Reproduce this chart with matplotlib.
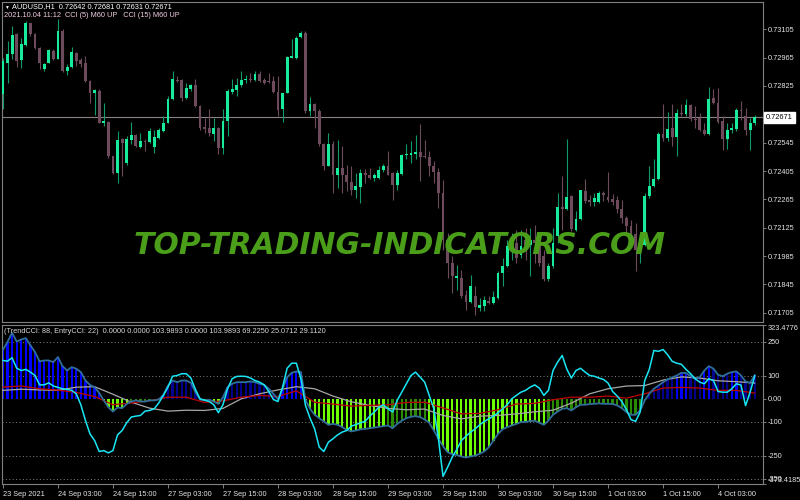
import numpy as np
import matplotlib
matplotlib.use("Agg")
import matplotlib.pyplot as plt
import matplotlib.transforms as mtransforms

plt.rcParams['font.family'] = ['Liberation Sans', 'DejaVu Sans']

# AUDUSD H1 candles, 23 Sep 2021 15:00 .. 4 Oct 2021 11:00
opens = [0.72783, 0.72940, 0.72981, 0.73080, 0.72953, 0.73026, 0.73135, 0.73084, 0.73014, 0.72910,
         0.72940, 0.72999, 0.72960, 0.73097, 0.72899, 0.72920, 0.72988, 0.72953, 0.72940, 0.72849,
         0.72788, 0.72800, 0.72641, 0.72648, 0.72478, 0.72396, 0.72561, 0.72445, 0.72557, 0.72584,
         0.72524, 0.72551, 0.72547, 0.72524, 0.72569, 0.72602, 0.72643, 0.72759, 0.72854, 0.72854,
         0.72767, 0.72808, 0.72828, 0.72726, 0.72623, 0.72618, 0.72590, 0.72618, 0.72519, 0.72651,
         0.72795, 0.72805, 0.72828, 0.72854, 0.72861, 0.72854, 0.72886, 0.72857, 0.72851, 0.72849,
         0.72795, 0.72709, 0.72792, 0.72965, 0.72965, 0.73069, 0.73089, 0.72701, 0.72737, 0.72701,
         0.72536, 0.72432, 0.72536, 0.72384, 0.72420, 0.72387, 0.72351, 0.72313, 0.72326, 0.72396,
         0.72387, 0.72371, 0.72371, 0.72409, 0.72432, 0.72396, 0.72338, 0.72392, 0.72483, 0.72486,
         0.72491, 0.72499, 0.72478, 0.72475, 0.72432, 0.72400, 0.72296, 0.72066, 0.71950, 0.71876,
         0.71876, 0.71793, 0.71760, 0.71785, 0.71727, 0.71739, 0.71765, 0.71755, 0.71777, 0.71901,
         0.71937, 0.72029, 0.72049, 0.71991, 0.72066, 0.72041, 0.72066, 0.72049, 0.71983, 0.71871,
         0.71934, 0.72082, 0.72227, 0.72217, 0.72280, 0.72115, 0.72168, 0.72305, 0.72260, 0.72250,
         0.72250, 0.72297, 0.72275, 0.72267, 0.72260, 0.72217, 0.72173, 0.72135, 0.72095, 0.72016,
         0.72041, 0.72280, 0.72330, 0.72366, 0.72590, 0.72569, 0.72618, 0.72572, 0.72692, 0.72689,
         0.72729, 0.72663, 0.72668, 0.72607, 0.72590, 0.72767, 0.72739, 0.72651, 0.72561, 0.72607,
         0.72613, 0.72706, 0.72676, 0.72610, 0.72642]
highs = [0.72965, 0.73047, 0.73122, 0.73085, 0.73064, 0.73146, 0.73138, 0.73089, 0.73019, 0.72940,
         0.73006, 0.73006, 0.73158, 0.73105, 0.72932, 0.73019, 0.72993, 0.72965, 0.72973, 0.72853,
         0.72808, 0.72808, 0.72742, 0.72651, 0.72481, 0.72602, 0.72569, 0.72577, 0.72646, 0.72590,
         0.72594, 0.72561, 0.72618, 0.72610, 0.72618, 0.72676, 0.72778, 0.72899, 0.72874, 0.72858,
         0.72841, 0.72833, 0.72858, 0.72729, 0.72668, 0.72712, 0.72668, 0.72623, 0.72712, 0.72808,
         0.72858, 0.72866, 0.72899, 0.72877, 0.72891, 0.72899, 0.72899, 0.72866, 0.72887, 0.72874,
         0.72874, 0.72792, 0.72973, 0.73056, 0.73072, 0.73097, 0.73097, 0.72772, 0.72742, 0.72709,
         0.72544, 0.72594, 0.72552, 0.72556, 0.72527, 0.72437, 0.72428, 0.72396, 0.72415, 0.72415,
         0.72420, 0.72396, 0.72429, 0.72442, 0.72503, 0.72399, 0.72412, 0.72491, 0.72536, 0.72552,
         0.72585, 0.72635, 0.72557, 0.72503, 0.72453, 0.72420, 0.72362, 0.72099, 0.71983, 0.71942,
         0.71917, 0.71818, 0.71892, 0.71835, 0.71777, 0.71785, 0.71785, 0.71810, 0.71909, 0.71975,
         0.72066, 0.72099, 0.72115, 0.72115, 0.72123, 0.72123, 0.72140, 0.72082, 0.72016, 0.71950,
         0.72123, 0.72297, 0.72379, 0.72561, 0.72288, 0.72206, 0.72313, 0.72366, 0.72288, 0.72297,
         0.72305, 0.72305, 0.72399, 0.72293, 0.72280, 0.72264, 0.72181, 0.72165, 0.72148, 0.72082,
         0.72297, 0.72428, 0.72462, 0.72597, 0.72734, 0.72696, 0.72734, 0.72712, 0.72734, 0.72759,
         0.72734, 0.72726, 0.72693, 0.72643, 0.72821, 0.72811, 0.72816, 0.72676, 0.72643, 0.72643,
         0.72717, 0.72750, 0.72717, 0.72668, 0.72681]
lows = [0.72709, 0.72841, 0.72957, 0.72920, 0.72915, 0.73023, 0.73072, 0.73009, 0.72907, 0.72899,
        0.72937, 0.72953, 0.72956, 0.72895, 0.72879, 0.72914, 0.72924, 0.72920, 0.72844, 0.72742,
        0.72684, 0.72640, 0.72627, 0.72470, 0.72392, 0.72346, 0.72379, 0.72437, 0.72536, 0.72524,
        0.72521, 0.72503, 0.72544, 0.72495, 0.72564, 0.72598, 0.72640, 0.72755, 0.72844, 0.72750,
        0.72759, 0.72800, 0.72721, 0.72610, 0.72594, 0.72577, 0.72552, 0.72491, 0.72491, 0.72577,
        0.72783, 0.72778, 0.72821, 0.72838, 0.72844, 0.72849, 0.72846, 0.72833, 0.72838, 0.72792,
        0.72679, 0.72646, 0.72788, 0.72961, 0.72960, 0.73064, 0.72693, 0.72679, 0.72618, 0.72531,
        0.72412, 0.72429, 0.72297, 0.72321, 0.72297, 0.72305, 0.72288, 0.72272, 0.72247, 0.72346,
        0.72366, 0.72354, 0.72366, 0.72399, 0.72384, 0.72264, 0.72310, 0.72387, 0.72462, 0.72445,
        0.72462, 0.72354, 0.72470, 0.72382, 0.72346, 0.72222, 0.72016, 0.71876, 0.71802, 0.71818,
        0.71777, 0.71719, 0.71752, 0.71694, 0.71711, 0.71711, 0.71749, 0.71749, 0.71772, 0.71838,
        0.71930, 0.71967, 0.71950, 0.71975, 0.71967, 0.71884, 0.71950, 0.71934, 0.71864, 0.71864,
        0.71925, 0.72049, 0.72115, 0.72214, 0.72107, 0.72107, 0.72161, 0.72247, 0.72231, 0.72231,
        0.72247, 0.72255, 0.72250, 0.72239, 0.72198, 0.72148, 0.72090, 0.72082, 0.71909, 0.71950,
        0.72033, 0.72272, 0.72326, 0.72362, 0.72552, 0.72552, 0.72531, 0.72481, 0.72676, 0.72679,
        0.72651, 0.72618, 0.72602, 0.72585, 0.72585, 0.72734, 0.72643, 0.72511, 0.72514, 0.72594,
        0.72602, 0.72659, 0.72585, 0.72511, 0.72631]
closes = [0.72948, 0.72981, 0.73075, 0.72948, 0.73031, 0.73138, 0.73080, 0.73014, 0.72940, 0.72935,
          0.73003, 0.72956, 0.73097, 0.72899, 0.72920, 0.72993, 0.72948, 0.72932, 0.72849, 0.72788,
          0.72805, 0.72643, 0.72650, 0.72478, 0.72396, 0.72556, 0.72544, 0.72561, 0.72585, 0.72528,
          0.72551, 0.72547, 0.72603, 0.72572, 0.72607, 0.72643, 0.72762, 0.72861, 0.72848, 0.72767,
          0.72816, 0.72828, 0.72726, 0.72618, 0.72613, 0.72594, 0.72618, 0.72519, 0.72651, 0.72800,
          0.72811, 0.72828, 0.72854, 0.72862, 0.72854, 0.72886, 0.72849, 0.72841, 0.72844, 0.72795,
          0.72706, 0.72788, 0.72968, 0.72973, 0.73064, 0.73085, 0.72701, 0.72737, 0.72701, 0.72536,
          0.72432, 0.72536, 0.72387, 0.72420, 0.72387, 0.72349, 0.72313, 0.72330, 0.72396, 0.72387,
          0.72371, 0.72387, 0.72409, 0.72432, 0.72387, 0.72338, 0.72396, 0.72486, 0.72491, 0.72495,
          0.72499, 0.72475, 0.72475, 0.72428, 0.72400, 0.72296, 0.72066, 0.71950, 0.71884, 0.71884,
          0.71788, 0.71760, 0.71835, 0.71731, 0.71744, 0.71769, 0.71755, 0.71782, 0.71901, 0.71937,
          0.72033, 0.72049, 0.71975, 0.72033, 0.72033, 0.72066, 0.72049, 0.71950, 0.71871, 0.71934,
          0.72049, 0.72227, 0.72217, 0.72277, 0.72118, 0.72168, 0.72310, 0.72255, 0.72250, 0.72272,
          0.72297, 0.72288, 0.72260, 0.72250, 0.72217, 0.72173, 0.72132, 0.72095, 0.72016, 0.72041,
          0.72283, 0.72330, 0.72366, 0.72590, 0.72569, 0.72613, 0.72572, 0.72692, 0.72686, 0.72729,
          0.72660, 0.72656, 0.72607, 0.72590, 0.72762, 0.72739, 0.72646, 0.72561, 0.72607, 0.72618,
          0.72706, 0.72701, 0.72610, 0.72643, 0.72671]
last_price = 0.72671

# indicator window
trend_cci = [215, 249, 289, 251, 260, 266, 234, 205, 164, 168, 168, 161, 183, 143, 124, 139, 132, 117, 80, 61,
             51, 26, -7, -37, -56, -38, -41, -23, -12, -7, -12, -12, -7, -7, -3, 17, 58, 80, 73, 80,
             80, 70, 29, -3, -7, -4, -12, -22, 7, 51, 66, 73, 73, 73, 76, 73, 66, 61, 44, 22,
             -2, 44, 95, 114, 120, 117, -5, -44, -70, -85, -99, -114, -110, -114, -124, -136, -143, -139, -134, -132,
             -129, -126, -123, -120, -117, -129, -110, -96, -85, -79, -76, -80, -91, -105, -139, -175, -208, -234, -243, -246,
             -253, -257, -253, -249, -241, -231, -212, -183, -154, -134, -124, -117, -110, -102, -101, -98, -96, -105, -114, -95,
             -70, -56, -44, -41, -51, -37, -26, -26, -23, -22, -20, -22, -22, -23, -29, -41, -58, -70, -70, -51,
             -7, 22, 44, 58, 73, 85, 94, 102, 114, 113, 99, 88, 95, 124, 143, 132, 105, 99, 110, 117,
             120, 102, 76, 70, 104]
entry_cci = [168, 165, 180, 134, 124, 129, 117, 102, 61, 61, 70, 56, 50, 44, 41, 37, 22, -26, -95, -154,
             -183, -231, -227, -237, -227, -158, -139, -105, -80, -76, -73, -54, -51, -44, -18, 15, 51, 99, 102, 110,
             110, 91, 41, 0, -6, -12, -26, -61, -26, 44, 88, 98, 99, 98, 91, 80, 73, 61, 32, -3,
             -12, 51, 134, 156, 156, 88, -29, -85, -132, -212, -231, -190, -175, -158, -146, -139, -120, -113, -105, -99,
             -76, -58, -37, -26, -44, -58, -7, 29, 66, 102, 117, 95, 73, 15, -44, -175, -340, -300, -256, -222,
             -183, -164, -146, -132, -114, -99, -88, -76, -61, -44, -26, 0, 15, 29, 37, 51, 61, 47, 15, 37,
             124, 161, 190, 130, 91, 124, 134, 117, 102, 99, 91, 85, 69, 32, 12, -12, -47, -91, -99, -58,
             80, 129, 212, 208, 216, 193, 164, 156, 151, 129, 110, 88, 73, 66, 88, 80, 32, 29, 29, 44,
             66, 60, -30, 30, 100]
# slow lines, read every 4th bar
slow_step = 4
red_line = [51, 56, 44, 38, 28, 10, -26, -18, -9, 7, 7, -16, -9, 7, 15, 10, 35, -15, -23, -32, -29,
            -26, -16, -15, -40, -66, -64, -48, -23, -20, -4, 7, 7, 12, 3, 22, 47, 50, 47, 37, 37, 25]
gray_line = [37, 42, 39, 37, 51, 53, 20, -15, -41, -54, -50, -51, -42, 0, 22, 39, 53, 44, 12, -13, -29,
             -42, -48, -45, -73, -88, -76, -73, -66, -57, -50, -19, 22, 44, 56, 58, 82, 96, 91, 79, 75, 69]
# bars drawn in the darker shade
dark_ranges = [(28, 42), (48, 60), (84, 92), (119, 146), (150, 152), (155, 158), (161, 164)]

time_labels = ['23 Sep 2021', '24 Sep 03:00', '24 Sep 15:00', '27 Sep 03:00', '27 Sep 15:00',
               '28 Sep 03:00', '28 Sep 15:00', '29 Sep 03:00', '29 Sep 15:00', '30 Sep 03:00',
               '30 Sep 15:00', '1 Oct 03:00', '1 Oct 15:00', '4 Oct 03:00']
price_ticks = [0.71705, 0.71845, 0.71985, 0.72125, 0.72265, 0.72405, 0.72545, 0.72685,
               0.72825, 0.72965, 0.73105]
cci_ticks = [323.4776, 250, 100, 0, -100, -250, -350, -373.4185]
cci_tick_labels = ['323.4776', '250', '100', '0.00', '-100', '-250', '-350', '-373.4185']
cci_levels = [250, 100, -100, -250, -350]

BULL = '#19eb9c'
BULL_WICK = '#109a68'
BEAR = '#6d4b5c'
FRAME = '#808080'
TXT = '#e4e4e4'
FS = 5.3

W, H = 800, 500
fig = plt.figure(figsize=(8, 5), dpi=100, facecolor='black')


def px_axes(x0, y0, x1, y1):
    return fig.add_axes([x0 / W, 1 - y1 / H, (x1 - x0) / W, (y1 - y0) / H])


ax1 = px_axes(2, 2, 763, 322)
ax2 = px_axes(2, 325, 763, 484)

o = np.array(opens)
h = np.array(highs)
l = np.array(lows)
c = np.array(closes)
x = np.arange(len(o))
up = c >= o

for ax in (ax1, ax2):
    ax.set_facecolor('black')
    ax.set_xlim(-0.2, 165.8)
    for s in ax.spines.values():
        s.set_color(FRAME)
        s.set_linewidth(0.8)
    ax.yaxis.tick_right()
    ax.tick_params(axis='y', colors=FRAME, labelcolor=TXT, length=2.5, width=0.7,
                   labelsize=FS, pad=1)

# candles
ax1.vlines(x[up], l[up], h[up], color=BULL_WICK, lw=0.8, zorder=2)
ax1.vlines(x[~up], l[~up], h[~up], color=BEAR, lw=0.8, zorder=2)
body_lo = np.minimum(o, c)
body_h = np.maximum(np.abs(c - o), 0.000015)
ax1.bar(x[up], body_h[up], bottom=body_lo[up], width=0.62, color=BULL, linewidth=0, zorder=3)
ax1.bar(x[~up], body_h[~up], bottom=body_lo[~up], width=0.62, color=BEAR, linewidth=0, zorder=3)
ax1.axhline(last_price, color='#8a8086', lw=0.8, zorder=1)

ax1.set_ylim(0.71659, 0.73240)
ax1.set_xticks([])
ax1.set_yticks(price_ticks)
ax1.set_yticklabels([f'{p:.5f}' for p in price_ticks])
blend = mtransforms.blended_transform_factory(ax1.transAxes, ax1.transData)
ax1.text(1.004, last_price, f'{last_price:.5f}', transform=blend, ha='left', va='center',
         fontsize=FS, color='black', clip_on=False, zorder=10,
         bbox=dict(boxstyle='square,pad=0.25', fc='white', ec='white'))

# indicator
tc = np.array(trend_cci)
dark = np.zeros(len(tc), dtype=bool)
for a, b in dark_ranges:
    dark[a:b + 1] = True
cols = []
for v, d in zip(tc, dark):
    if v >= 0:
        cols.append('#00008c' if d else '#0000ff')
    else:
        cols.append('#2a8a00' if d else '#6cff00')
ax2.bar(x, tc, width=0.5, color=cols, linewidth=0, zorder=2)
for lv in cci_levels:
    ax2.axhline(lv, color=FRAME, ls=(0, (1, 2.5)), lw=0.7, zorder=1)
xs = np.arange(0, len(tc), slow_step)
ax2.plot(xs, gray_line, color='#a8a8a8', lw=0.9, zorder=3)
ax2.plot(xs, red_line, color='#c00000', lw=0.9, zorder=4)
ax2.plot(x, tc, color='#2f6e9a', lw=1.3, zorder=5)
ax2.plot(x, entry_cci, color='#19e6f5', lw=1.1, zorder=6)

ax2.set_ylim(-373.4185, 323.4776)
ax2.set_yticks(cci_ticks)
ax2.set_yticklabels(cci_tick_labels)
ylabels = ax2.get_yticklabels()
ylabels[0].set_va('top')
ylabels[-1].set_va('bottom')
ax2.set_xticks(np.arange(0, 12 * len(time_labels), 12))
ax2.set_xticklabels(time_labels, ha='left')
ax2.tick_params(axis='x', colors=FRAME, labelcolor=TXT, length=3, width=0.7,
                labelsize=FS, pad=2)

# header texts
fig.text(4 / W, 1 - 7 / H, '\u25bc', fontsize=3.5, color='white', va='center')
fig.text(12 / W, 1 - 7 / H, 'AUDUSD,H1  0.72642 0.72681 0.72631 0.72671',
         fontsize=FS, color='white', va='center')
fig.text(4 / W, 1 - 15.5 / H, '2021.10.04 11:12  CCI (5) M60 UP   CCI (15) M60 UP',
         fontsize=FS, color='#f2cde2', va='center')
fig.text(4 / W, 1 - 331.5 / H,
         '(TrendCCI: 88, EntryCCI: 22)  0.0000 0.0000 103.9893 0.0000 103.9893 69.2250 25.0712 29.1120',
         fontsize=FS, color='#d8d8d8', va='center')

# watermark
fig.text(0.5, 1 - 246 / H, 'TOP-TRADING-INDICATORS.COM', fontsize=21.5,
         fontweight='bold', style='italic', family='DejaVu Sans',
         color='#4a9e1a', ha='center', va='center', zorder=20)

fig.savefig('out.png', dpi=100, facecolor='black')
